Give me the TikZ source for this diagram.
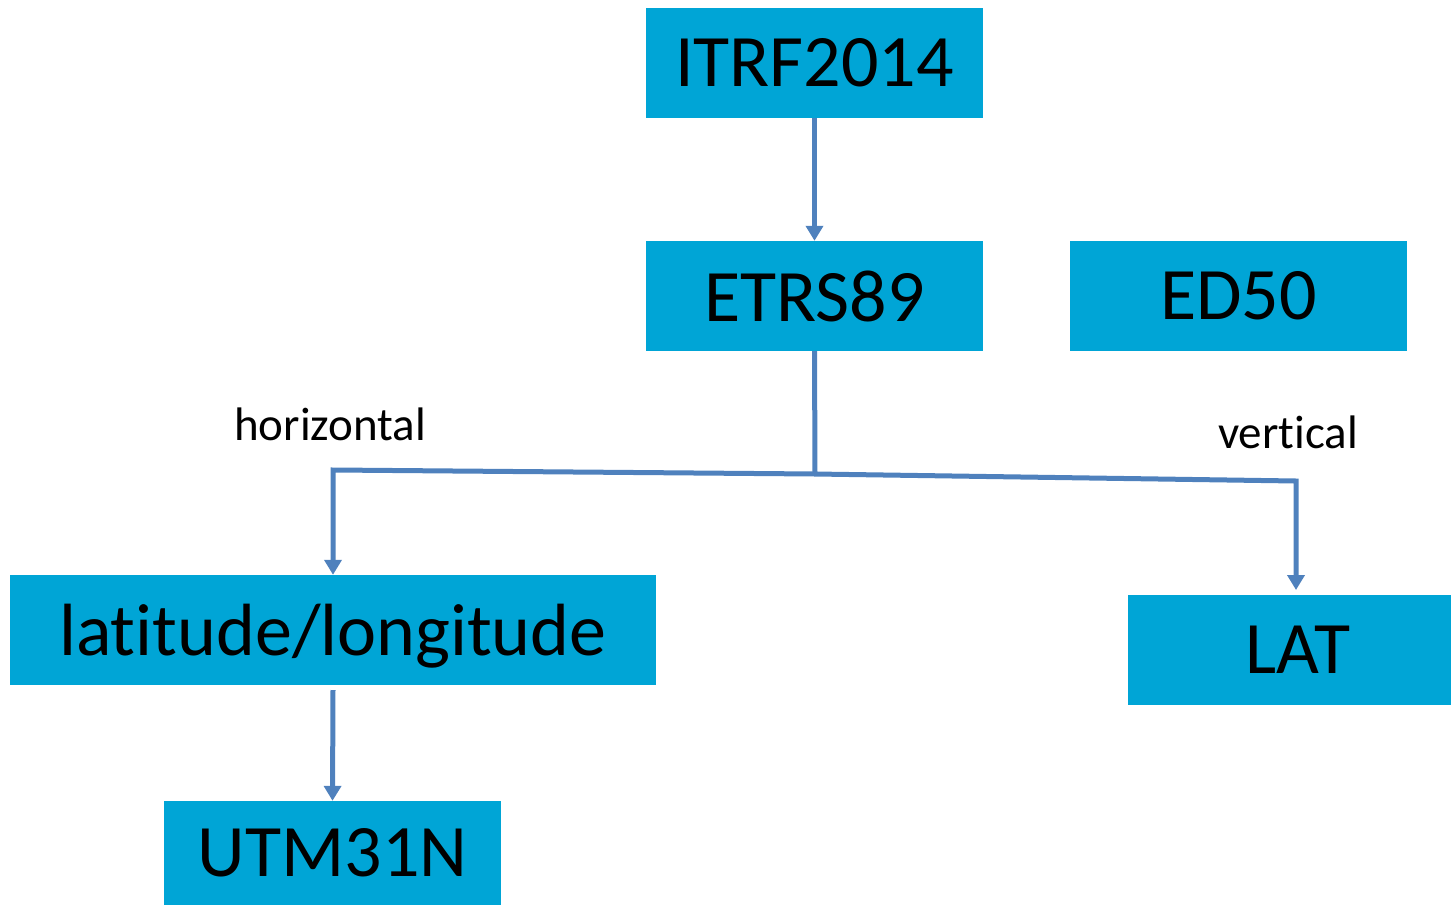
\documentclass[tikz,border=0pt]{standalone}
\usepackage{fontspec}
\setmainfont[Ligatures=NoCommon]{Carlito}
\usetikzlibrary{arrows.meta}
\definecolor{boxblue}{RGB}{0,165,214}
\definecolor{linkblue}{RGB}{79,129,189}
\begin{document}
\begin{tikzpicture}[x=1pt,y=-1pt,
  box/.style={fill=boxblue, minimum width=337pt, minimum height=110pt, inner sep=0pt, font=\fontsize{74}{80}\selectfont},
  wire/.style={draw=linkblue, line width=5pt},
  link/.style={wire, -{Triangle[width=17pt,length=15pt]}},
  lbl/.style={font=\fontsize{47}{52}\selectfont, inner sep=0pt}]
\useasboundingbox (0,0) rectangle (1451,905);
\node[box] (itrf) at (814.5,63) {ITRF2014};
\node[box] (etrs) at (814.5,296) {ETRS89};
\node[box] (ed50) at (1238.5,296) {ED50};
\node[box, minimum width=646pt, text depth=0pt] (latlon) at (333,630) {latitude/longitude};
\node[box, minimum width=323pt] (lat) at (1289.5,650) {\hspace*{17pt}LAT};
\node[box, minimum height=104pt] (utm) at (332.5,853) {UTM31N};
\node[lbl] (hlab) at (330,424) {horizontal};
\node[lbl] (vlab) at (1288,432) {vertical};
\coordinate (j) at (815,474);
\coordinate (jl) at (333,470);
\coordinate (jr) at (1296,481);
\coordinate (lattop) at (1296,590);
\coordinate (utmfrom) at (333,690);
\draw[link] (itrf.south) -- (etrs.north);
\draw[wire] (etrs.south) -- (j);
\draw[link] (j) -- (jl) -- (latlon.north);
\draw[link] (j) -- (jr) -- (lattop);
\draw[link] (utmfrom) -- (utm.north);
\end{tikzpicture}
\end{document}
